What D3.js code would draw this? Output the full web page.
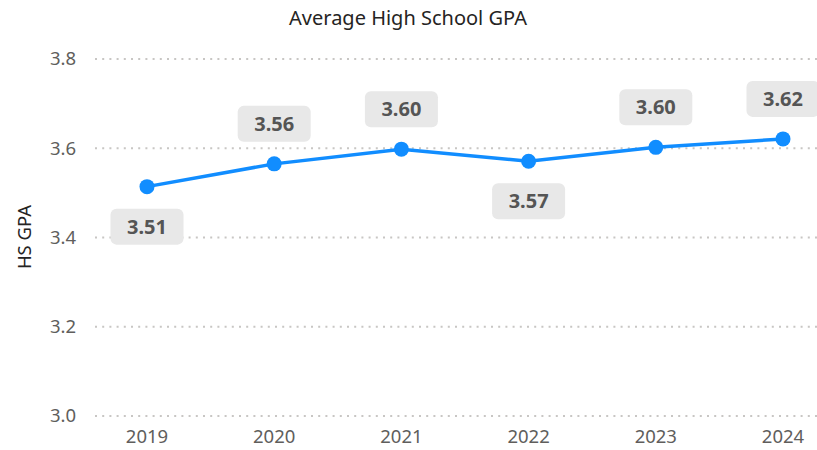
<!DOCTYPE html>
<html lang="en">
<head>
    <meta charset="UTF-8">
    <title>Average High School GPA</title>
    <style>
        body { margin: 0; background: #fff; }
        svg { display: block; font-family: "Segoe UI", "Noto Sans", "Open Sans", sans-serif; }
        .grid line { stroke: #c8c6c4; stroke-width: 2; stroke-dasharray: 2, 5.2; }
        .tick-label { fill: #605e5c; }
        .label-box { fill: #e8e8e8; }
        .label-text { fill: #555; font-size: 20px; font-weight: bold; }
    </style>
</head>
<body>
    <svg width="817" height="450"></svg>

    <script src="https://cdn.jsdelivr.net/npm/d3@7"></script>
    <script>
        const years = ['2019', '2020', '2021', '2022', '2023', '2024'];
        const gpa = [3.514, 3.565, 3.598, 3.571, 3.602, 3.621];
        const gpaLabels = ['3.51', '3.56', '3.60', '3.57', '3.60', '3.62'];
        const yTicks = [3.0, 3.2, 3.4, 3.6, 3.8];

        const svg = d3.select('svg');

        const xScale = d3.scalePoint()
            .domain(years)
            .range([147, 783]);

        const yScale = d3.scaleLinear()
            .domain([3.0, 3.8])
            .range([416, 59]);

        // gridlines
        svg.append('g')
            .attr('class', 'grid')
            .selectAll('line')
            .data(yTicks)
            .enter()
            .append('line')
            .attr('x1', 95)
            .attr('x2', 817)
            .attr('y1', d => yScale(d))
            .attr('y2', d => yScale(d));

        // y tick labels
        svg.append('g')
            .selectAll('text')
            .data(yTicks)
            .enter()
            .append('text')
            .attr('class', 'tick-label')
            .style('font-size', '18.5px')
            .attr('x', 76)
            .attr('y', d => yScale(d))
            .attr('dy', '0.35em')
            .attr('text-anchor', 'end')
            .text(d => d.toFixed(1));

        // x tick labels
        svg.append('g')
            .selectAll('text')
            .data(years)
            .enter()
            .append('text')
            .attr('class', 'tick-label')
            .style('font-size', '18.5px')
            .attr('x', d => xScale(d))
            .attr('y', 443)
            .attr('text-anchor', 'middle')
            .text(d => d);

        const points = years.map((y, i) => ({ year: y, value: gpa[i], label: gpaLabels[i], i: i }));

        const line = d3.line()
            .x(d => xScale(d.year))
            .y(d => yScale(d.value));

        svg.append('path')
            .datum(points)
            .attr('d', line)
            .attr('fill', 'none')
            .attr('stroke', '#118dff')
            .attr('stroke-width', 3.5);

        svg.append('g')
            .selectAll('circle')
            .data(points)
            .enter()
            .append('circle')
            .attr('cx', d => xScale(d.year))
            .attr('cy', d => yScale(d.value))
            .attr('r', 7.5)
            .attr('fill', '#118dff');

        // labels go below the local minimums, above otherwise
        function below(d) {
            const prev = d.i > 0 ? gpa[d.i - 1] : Infinity;
            const next = d.i < gpa.length - 1 ? gpa[d.i + 1] : Infinity;
            return d.value < prev && d.value < next;
        }

        const boxW = 73, boxH = 36, gap = 22;

        const labels = svg.append('g')
            .selectAll('g')
            .data(points)
            .enter()
            .append('g')
            .attr('transform', d => {
                const cx = xScale(d.year);
                const cy = yScale(d.value);
                const top = below(d) ? cy + gap : cy - gap - boxH;
                return `translate(${cx}, ${top})`;
            });

        labels.append('rect')
            .attr('class', 'label-box')
            .attr('x', -boxW / 2)
            .attr('y', 0)
            .attr('width', boxW)
            .attr('height', boxH)
            .attr('rx', 6);

        labels.append('text')
            .attr('class', 'label-text')
            .attr('x', 0)
            .attr('y', boxH / 2)
            .attr('dy', '0.35em')
            .attr('text-anchor', 'middle')
            .text(d => d.label);

        // y axis title
        svg.append('text')
            .attr('transform', 'translate(31, 237) rotate(-90)')
            .attr('text-anchor', 'middle')
            .attr('fill', '#252423')
            .style('font-size', '18.5px')
            .text('HS GPA');

        svg.append('text')
            .attr('x', 408)
            .attr('y', 25)
            .attr('text-anchor', 'middle')
            .attr('fill', '#252423')
            .style('font-size', '20px')
            .text('Average High School GPA');
    </script>
</body>
</html>
